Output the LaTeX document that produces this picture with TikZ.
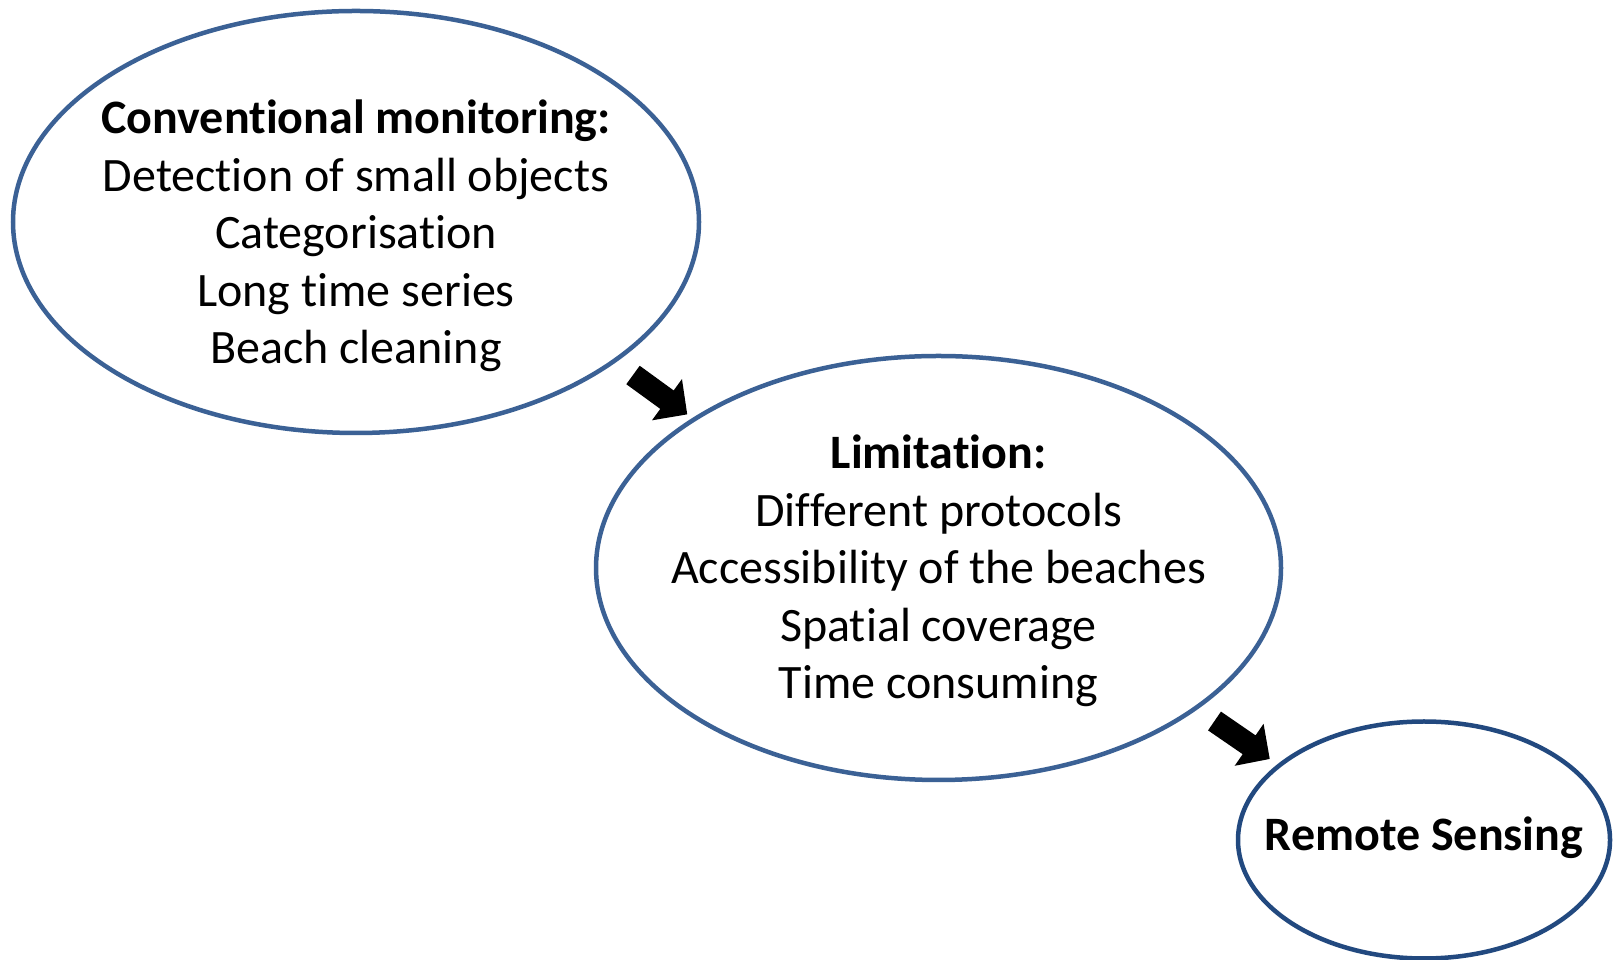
\documentclass[tikz,border=0pt]{standalone}
\usepackage{fontspec}
\setmainfont[RawFeature={-liga;-clig;-calt;-dlig}]{Carlito}
\usetikzlibrary{shapes.geometric}
\definecolor{ringblue}{HTML}{3B6195}
\definecolor{ringnavy}{HTML}{22497F}
\newcommand{\nolig}{\kern0pt }
\tikzset{
  ring/.style={ellipse, draw=ringblue, line width=4.5pt, fill=white, inner sep=0pt},
  label/.style={align=center, font=\fontsize{48}{57.6}\selectfont, inner sep=0pt},
  blockarrow/.style={fill=black}
}
\begin{document}
\begin{tikzpicture}[x=1pt,y=1pt]
\useasboundingbox (0,0) rectangle (1613,960);
\fill[white] (0,0) rectangle (1613,960);
\node[ring, minimum width=686pt, minimum height=422pt] (e1) at (356,738) {};
\node[ring, minimum width=685pt, minimum height=424pt] (e2) at (938.5,392) {};
\node[ring, draw=ringnavy, minimum width=372pt, minimum height=237pt] (e3) at (1424,120) {};
\node[label] (t1) at (356,724) {\textbf{Convent\nolig ional monitoring:}\\Detect\nolig ion of small objects\\Categorisat\nolig ion\\Long t\nolig ime series\\Beach cleaning};
\node[label] (t2) at (938.5,389) {\textbf{Limitat\nolig ion:}\\Dif\nolig ferent protocols\\Accessibility of the beaches\\Spat\nolig ial coverage\\Time consuming};
\node[label] (t3) at (1424,122) {\textbf{Remote Sensing}};
\begin{scope}[shift={(633,585)}, rotate=-36]
\fill[blockarrow] (0,11.4) -- (42,11.4) -- (42,25.5) -- (67,0) -- (42,-25.5) -- (42,-11.4) -- (0,-11.4) -- cycle;
\end{scope}
\begin{scope}[shift={(1214.5,239)}, rotate=-34.5]
\fill[blockarrow] (0,11.4) -- (42,11.4) -- (42,25.5) -- (67,0) -- (42,-25.5) -- (42,-11.4) -- (0,-11.4) -- cycle;
\end{scope}
\end{tikzpicture}
\end{document}
